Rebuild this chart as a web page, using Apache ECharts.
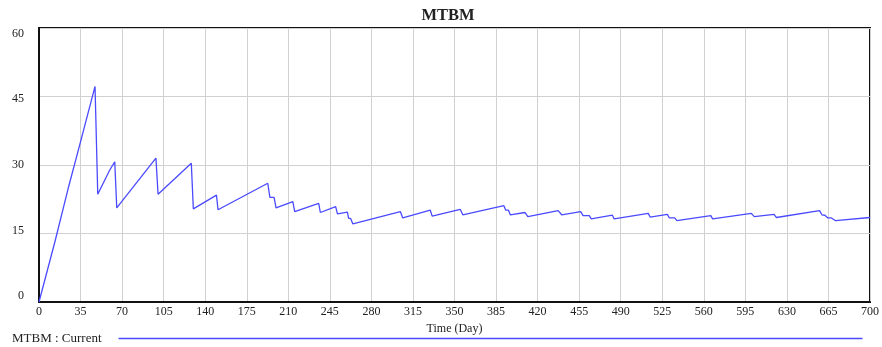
<!DOCTYPE html>
<html>
<head>
<meta charset="utf-8">
<script src="https://cdn.jsdelivr.net/npm/echarts@6/dist/echarts.min.js"></script>
<style>
  html, body { margin: 0; padding: 0; background: #fff; }
  #chart { width: 882px; height: 347px; }
</style>
</head>
<body>
<div id="chart"></div>
<script>
// MTBM simulation output, time in days
const seriesName = 'MTBM : Current';
const timeDays = [
  0, 13.4, 24.6, 35.8, 47.2, 49.5, 59.6, 63.8, 65.5, 98.5,
  100.3, 128.3, 130, 149.5, 150.8, 192.7, 194.5, 198, 199.7, 213.8,
  215.4, 235.6, 237, 249.9, 251.4, 259.8, 260.8, 262.5, 264.4, 304.4,
  306.4, 329.6, 331.2, 354.8, 357, 391.6, 393.2, 395.5, 397, 409.3,
  411.8, 437.3, 440.3, 456.3, 458.3, 463.5, 465.2, 483, 484.5, 513.2,
  514.8, 529.3, 531, 535.5, 537.3, 565.9, 567.4, 600, 602.5, 619.2,
  621.2, 657.5, 659.5, 662, 664.5, 667.5, 671, 700
];
const mtbmValues = [
  0, 13.2, 24.9, 35.9, 47.2, 23.6, 28.9, 30.7, 20.6, 31.5,
  23.6, 30.4, 20.4, 23.4, 20.2, 26.0, 22.9, 22.9, 20.6, 22.0,
  19.8, 21.6, 19.6, 20.9, 19.3, 19.7, 18.3, 18.3, 17.1, 19.8,
  18.4, 20.1, 18.8, 20.3, 19.1, 21.1, 20.1, 20.1, 19.1, 19.6,
  18.7, 20.0, 19.1, 19.8, 18.9, 18.9, 18.2, 19.0, 18.2, 19.4,
  18.6, 19.2, 18.4, 18.4, 17.8, 18.9, 18.2, 19.4, 18.7, 19.2,
  18.5, 20.0, 19.1, 19.0, 18.4, 18.4, 17.8, 18.5
];
const xTicks = { min: 0, max: 700, step: 35 };
const yTicks = { min: 0, max: 60, step: 15 };

const points = timeDays.map((t, i) => [t, mtbmValues[i]]);
const serif = '"Liberation Serif", "DejaVu Serif", serif';
const lineColor = '#4a4aff';

// y labels sit slightly inward from the plot edges
const yLabelShift = { 0: 'b12', 15: 'b6', 30: 'n', 45: 't4', 60: 't12' };
const yRich = {
  b12: { padding: [0, 0, 12, 0] },
  b6: { padding: [0, 0, 6, 0] },
  n: {},
  t4: { padding: [4, 0, 0, 0] },
  t12: { padding: [12, 0, 0, 0] }
};

const chart = echarts.init(document.getElementById('chart'), null, { renderer: 'canvas' });
chart.setOption({
  animation: false,
  title: {
    text: 'MTBM',
    left: 443,
    textAlign: 'center',
    top: 2,
    textStyle: { fontFamily: serif, fontSize: 16.5, fontWeight: 'bold', color: '#222' }
  },
  legend: {
    data: [seriesName],
    left: 12,
    top: 332,
    padding: 0,
    align: 'right',
    icon: 'rect',
    itemWidth: 744,
    itemHeight: 1.5,
    textStyle: { fontFamily: serif, fontSize: 13, color: '#222', padding: [0, 12, 0, 0] }
  },
  grid: {
    left: 39, right: 9, top: 28, bottom: 45,
    show: true, borderColor: '#111', borderWidth: 2
  },
  xAxis: {
    type: 'value',
    min: xTicks.min, max: xTicks.max, interval: xTicks.step,
    name: 'Time (Day)',
    nameLocation: 'middle',
    nameGap: 16,
    nameTextStyle: { fontFamily: serif, fontSize: 12, color: '#222' },
    axisLine: { lineStyle: { color: '#111', width: 2 } },
    axisTick: { show: false },
    axisLabel: { fontFamily: serif, fontSize: 12, color: '#222', margin: 4 },
    splitLine: { show: true, lineStyle: { color: '#d0d0d0', width: 1 } }
  },
  yAxis: {
    type: 'value',
    min: yTicks.min, max: yTicks.max, interval: yTicks.step,
    axisLine: { show: true, lineStyle: { color: '#111', width: 2 } },
    axisTick: { show: false },
    axisLabel: {
      fontFamily: serif, fontSize: 12, color: '#222', margin: 15,
      formatter: v => `{${yLabelShift[v] || 'n'}|${v}}`,
      rich: Object.fromEntries(Object.entries(yRich).map(([k, s]) =>
        [k, Object.assign({ fontFamily: serif, fontSize: 12, color: '#222' }, s)]))
    },
    splitLine: { show: true, lineStyle: { color: '#d0d0d0', width: 1 } }
  },
  series: [{
    name: seriesName,
    type: 'line',
    data: points,
    showSymbol: false,
    symbol: 'none',
    lineStyle: { color: lineColor, width: 1.3 },
    itemStyle: { color: lineColor }
  }]
});
</script>
</body>
</html>
